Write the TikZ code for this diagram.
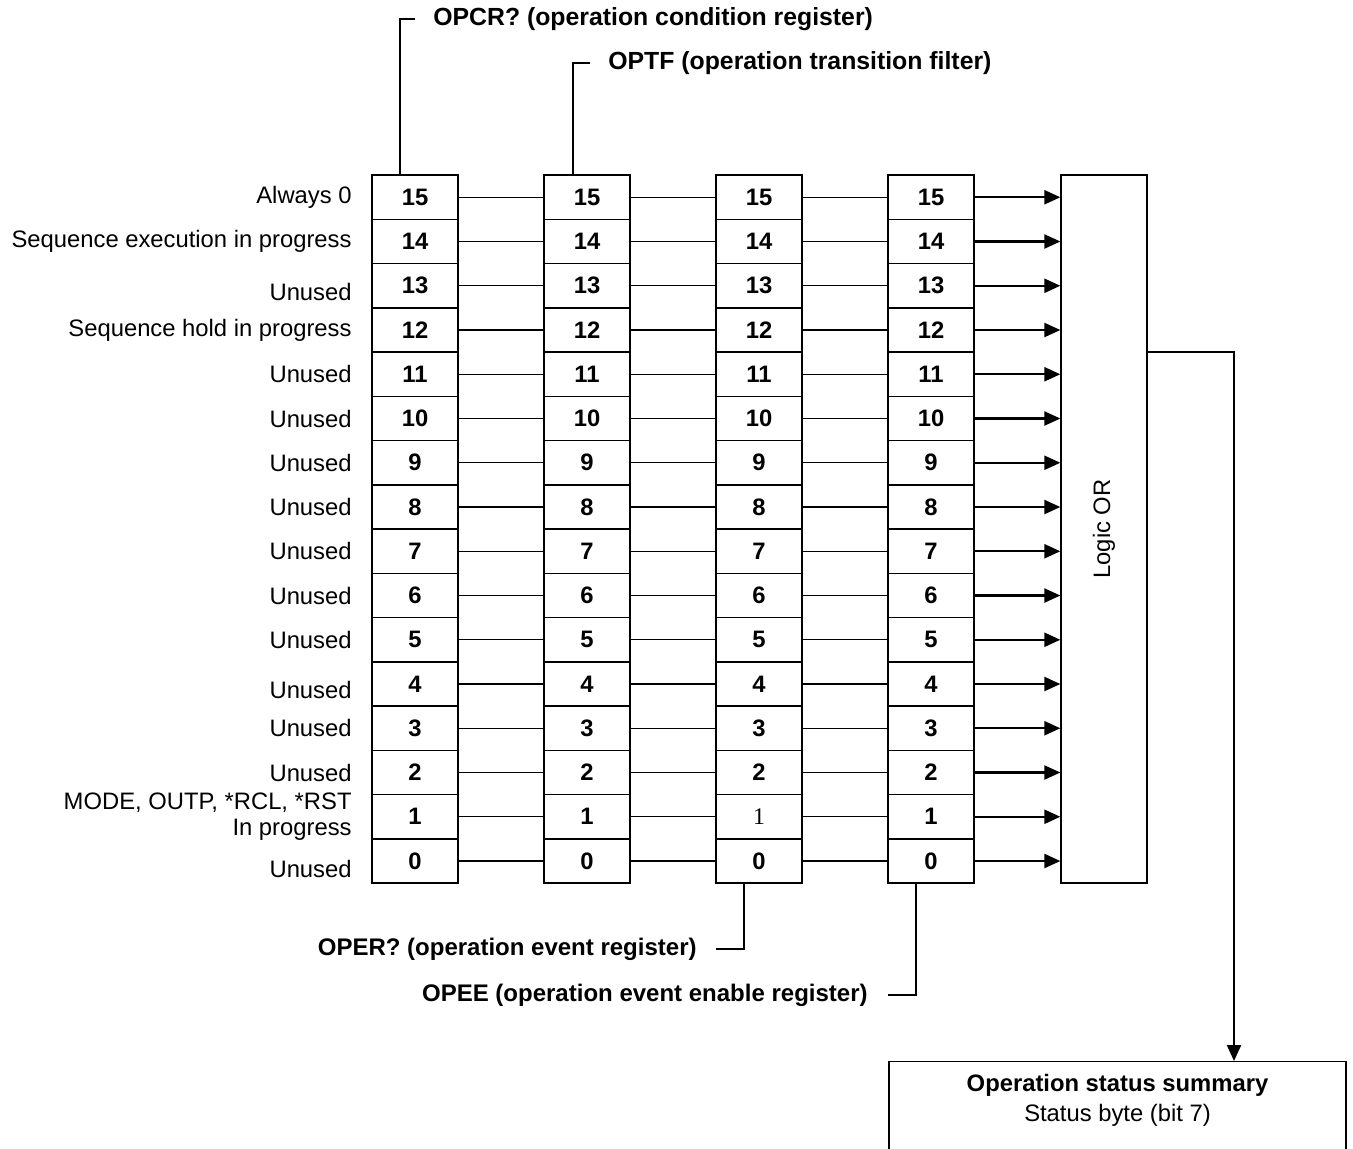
\documentclass[tikz,border=0pt]{standalone}
\usepackage{fontspec}
\setmainfont{Liberation Sans}
\newfontfamily\serifone{Liberation Serif}
\usetikzlibrary{arrows.meta}

\tikzset{
  cell/.style={draw, line width=0.65pt, minimum width=43pt, minimum height=22.125pt, inner sep=0pt, font=\fontsize{11.9}{13}\selectfont\bfseries},
  link/.style={line width=0.65pt},
  feed/.style={line width=1.1pt, -{Triangle[length=8pt,width=7pt]}},
  regname/.style={font=\fontsize{#1}{14}\selectfont\bfseries, inner sep=0pt},
  bitname/.style={anchor=east, inner sep=0pt, align=right},
}

\begin{document}
\begin{tikzpicture}[x=0.5pt,y=-0.5pt,font=\fontsize{11.9}{13}\selectfont]
  \useasboundingbox (0,0) rectangle (1353,1148);
  \clip (0,0) rectangle (1353,1148);
  % register columns
  \foreach \col/\x in {1/415,2/587,3/759,4/931}
    \foreach \b in {0,...,15}
      \node[cell] (c\col-\b) at (\x,{861-44.25*\b}) {\ifnum\col\b=31 {\mdseries\serifone 1}\else\b\fi};
  \node[draw, line width=0.65pt, minimum width=43pt, minimum height=354pt, inner sep=0pt] (logic) at (1104,529) {\rotatebox{90}{Logic OR}};
  % bit names
  \foreach \b/\dy/\txt in {15/0/Always 0, 14/0/Sequence execution in progress, 13/6/Unused,
      12/0/Sequence hold in progress, 11/0/Unused, 10/0/Unused, 9/0/Unused, 8/0/Unused,
      7/0/Unused, 6/0/Unused, 5/0/Unused, 4/6/Unused, 3/0/Unused, 2/0/Unused, 0/8/Unused}
    \node[bitname] (lbl\b) at (352,{861-44.25*\b+\dy}) {\txt};
  \node[bitname] (lbl1) at (352,817) {MODE, OUTP, *RCL, *RST\\In progress};
  % links between registers
  \foreach \b in {0,...,15} {
    \draw[link] (c1-\b) -- (c2-\b);
    \draw[link] (c2-\b) -- (c3-\b);
    \draw[link] (c3-\b) -- (c4-\b);
    \draw[feed] (c4-\b) -- (c4-\b -| logic.west);
  }
  % register names
  \node[regname=12.4, anchor=west] (opcr) at (433,19) {OPCR? (operation condition register)};
  \draw[link] ([xshift=-7.5pt]c1-15.north) |- ([xshift=-9pt]opcr.west);
  \node[regname=12.4, anchor=west] (optf) at (608,63) {OPTF (operation transition filter)};
  \draw[link] ([xshift=-7pt]c2-15.north) |- ([xshift=-9pt]optf.west);
  \node[regname=12, anchor=east] (oper) at (697,949) {OPER? (operation event register)};
  \draw[link] ([xshift=-7.5pt]c3-0.south) |- ([xshift=9.5pt]oper.east);
  \node[regname=12, anchor=east] (opee) at (868,995) {OPEE (operation event enable register)};
  \draw[link] ([xshift=-7.5pt]c4-0.south) |- ([xshift=10pt]opee.east);
  % summary
  \node[draw, line width=0.65pt, minimum width=228.5pt, minimum height=60pt, anchor=north] (summ) at (1117.5,1061) {};
  \node[align=center] (summtext) at (1117.5,1100) {\textbf{Operation status summary}\\[2pt]Status byte (bit 7)};
  \coordinate (bend) at (1234,352);
  \draw[feed] (logic.east |- bend) -- (bend) -- (summ.north -| bend);
\end{tikzpicture}
\end{document}
